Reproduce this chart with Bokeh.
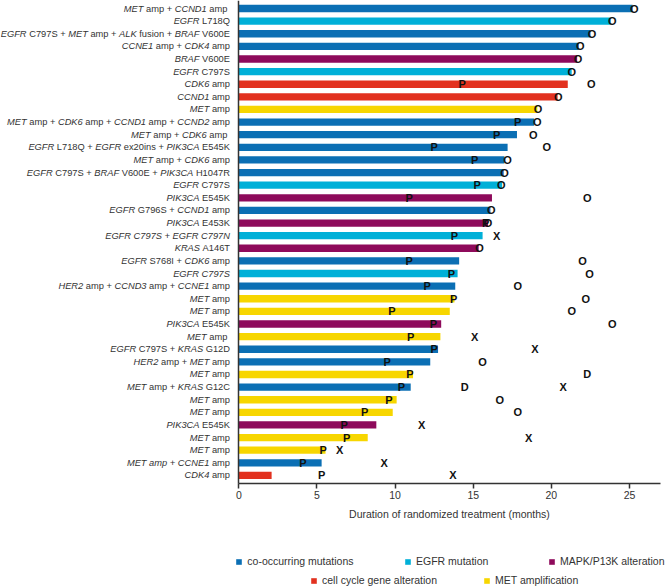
from bokeh.plotting import figure
from bokeh.models import (ColumnDataSource, CDSView, GroupFilter, Legend,
                          LegendItem, FixedTicker, Range1d, LinearAxis)
from bokeh.core.properties import value, field
from bokeh.embed import file_html
from bokeh.resources import INLINE

FONT = "Liberation Sans"

# ---------------- data ----------------
# gene names in *...* are italic
labels = [
    "*MET* amp + *CCND1* amp ",
    "*EGFR* L718Q",
    "*EGFR* C797S + *MET* amp + *ALK* fusion + *BRAF* V600E",
    "*CCNE1* amp + *CDK4* amp",
    "*BRAF* V600E",
    "*EGFR* C797S",
    "*CDK6* amp",
    "*CCND1* amp",
    "*MET* amp",
    "*MET* amp + *CDK6* amp + *CCND1* amp + *CCND2* amp",
    "*MET* amp + *CDK6* amp ",
    "*EGFR* L718Q + *EGFR* ex20ins + *PIK3CA* E545K",
    "*MET* amp + *CDK6* amp",
    "*EGFR* C797S + *BRAF* V600E + *PIK3CA* H1047R",
    "*EGFR* C797S",
    "*PIK3CA* E545K",
    "*EGFR* G796S + *CCND1* amp",
    "*PIK3CA* E453K",
    "*EGFR C797S + EGFR C797N*",
    "*KRAS* A146T",
    "*EGFR* S768I + *CDK6* amp",
    "*EGFR C797S*",
    "*HER2* amp + *CCND3* amp + *CCNE1* amp",
    "*MET* amp",
    "*MET* amp",
    "*PIK3CA* E545K",
    "*MET* amp ",
    "*EGFR* C797S + *KRAS* G12D",
    "*HER2* amp + *MET* amp",
    "*MET* amp",
    "*MET* amp + *KRAS* G12C",
    "*MET* amp",
    "*MET* amp",
    "*PIK3CA* E545K",
    "*MET* amp",
    "*MET* amp",
    "*MET amp + CCNE1* amp",
    "*CDK4* amp",
]

categories = [
    "co-occurring mutations", "EGFR mutation", "co-occurring mutations", "co-occurring mutations",
    "MAPK/P13K alteration", "EGFR mutation", "cell cycle gene alteration", "cell cycle gene alteration",
    "MET amplification", "co-occurring mutations", "co-occurring mutations", "co-occurring mutations",
    "co-occurring mutations", "co-occurring mutations", "EGFR mutation", "MAPK/P13K alteration",
    "co-occurring mutations", "MAPK/P13K alteration", "EGFR mutation", "MAPK/P13K alteration",
    "co-occurring mutations", "EGFR mutation", "co-occurring mutations", "MET amplification",
    "MET amplification", "MAPK/P13K alteration", "MET amplification", "co-occurring mutations",
    "co-occurring mutations", "MET amplification", "co-occurring mutations", "MET amplification",
    "MET amplification", "MAPK/P13K alteration", "MET amplification", "MET amplification",
    "co-occurring mutations", "cell cycle gene alteration",
]

duration = [25.2, 23.8, 22.5, 21.75, 21.65, 21.3, 21.05, 20.4, 19.1, 18.9,
            17.8, 17.2, 17.0, 16.95, 16.85, 16.2, 16.1, 15.95, 15.6, 15.35,
            14.1, 14.0, 13.85, 13.8, 13.5, 12.95, 12.9, 12.75, 12.25, 11.15,
            11.0, 10.1, 9.85, 8.8, 8.25, 5.55, 5.3, 2.1]

# event markers: row number (1 = top), time (months), letter
ev_row = [1, 2, 3, 4, 5, 6, 7, 7, 8, 9, 10, 10, 11, 11, 12, 12, 13, 13, 14, 15, 15,
          16, 16, 17, 18, 18, 19, 19, 20, 21, 21, 22, 22, 23, 23, 24, 24, 25, 25,
          26, 26, 27, 27, 28, 28, 29, 29, 30, 30, 31, 31, 31, 32, 32, 33, 33,
          34, 34, 35, 35, 36, 36, 37, 37, 38, 38]
ev_time = [25.3, 23.9, 22.6, 21.85, 21.7, 21.3, 14.3, 22.55, 20.45, 19.15, 17.85, 19.1,
           16.5, 18.85, 12.5, 19.7, 15.1, 17.2, 17.0, 15.25, 16.8,
           10.9, 22.3, 16.15, 15.8, 15.95, 13.8, 16.5, 15.4, 10.9, 22.0, 13.6, 22.45,
           12.05, 17.85, 13.75, 22.2, 9.8, 21.3,
           12.45, 23.9, 11.0, 15.1, 12.5, 18.95, 9.5, 15.6, 10.95, 22.3, 10.4, 14.45, 20.75,
           9.6, 16.7, 8.05, 17.85, 6.75, 11.7, 6.9, 18.55, 5.4, 6.45, 4.1, 9.3, 5.3, 13.7]
ev_type = ["O", "O", "O", "O", "O", "O", "P", "O", "O", "O", "P", "O", "P", "O", "P", "O",
           "P", "O", "O", "P", "O", "P", "O", "O", "P", "O", "P", "X", "O", "P", "O", "P", "O",
           "P", "O", "P", "O", "P", "O", "P", "O", "P", "X", "P", "X", "P", "O", "P", "D",
           "P", "D", "X", "P", "O", "P", "O", "P", "X", "P", "X", "P", "X", "P", "X", "P", "X"]

legend_names = ["co-occurring mutations", "EGFR mutation", "MAPK/P13K alteration",
                "cell cycle gene alteration", "MET amplification"]
colors = ["#0B6FB4", "#00B0D8", "#8E0A5B", "#E2311F", "#F7D600"]
x_ticks = [0, 5, 10, 15, 20, 25]
x_max = 27

# ---------------- helpers ----------------
W = {' ': 278, '+': 584, '-': 333, '/': 278, '(': 333, ')': 333, '.': 278}
for d in "0123456789":
    W[d] = 556
W.update(dict(zip("ABCDEFGHIJKLMNOPQRSTUVWXYZ",
                  [667, 667, 722, 722, 667, 611, 778, 722, 278, 500, 667, 556, 833,
                   722, 778, 667, 778, 722, 667, 611, 722, 667, 944, 667, 667, 611])))
W.update(dict(zip("abcdefghijklmnopqrstuvwxyz",
                  [556, 556, 500, 556, 556, 278, 556, 556, 222, 222, 500, 222, 833,
                   556, 556, 556, 556, 333, 500, 278, 556, 500, 722, 500, 500, 500])))

LFS = 9.3  # label font size (px)


def tw(s):
    return sum(W.get(c, 556) for c in s) * LFS / 1000.0


n = len(labels)
ypos = [n + 1 - (i + 1) for i in range(n)]

GAP = 8.8
lab_x, lab_y, lab_t, lab_off, lab_style = [], [], [], [], []
for i, lab in enumerate(labels):
    parts = lab.split("*")
    segs = [(s, k % 2 == 1) for k, s in enumerate(parts) if s]
    total = sum(tw(s) for s, _ in segs)
    cur = -GAP - total
    for s, it in segs:
        st = s.strip()
        if st:
            lead = len(s) - len(s.lstrip())
            left = cur + tw(s[:lead])
            lab_x.append(0)
            lab_y.append(ypos[i])
            lab_t.append(st)
            lab_off.append(left)
            lab_style.append("italic" if it else "normal")
        cur += tw(s)

# ---------------- figure ----------------
PW, PH = 666, 587
X0 = 238.3          # pixel of x = 0
SX = 15.628         # pixels per month
Y1 = 8.0            # pixel of top row
SY = 12.62          # pixels per row
y_top = n + Y1 / SY
y_bot = y_top - PH / SY
y_axis_pos = 1 - 8.0 / SY

p = figure(width=PW, height=PH,
           x_range=Range1d(-X0 / SX, (PW - X0) / SX),
           y_range=Range1d(y_bot, y_top),
           output_backend="svg", toolbar_location=None,
           x_axis_location=None, y_axis_location=None,
           min_border=0, min_border_left=0, min_border_right=0,
           min_border_top=0, min_border_bottom=0)
p.outline_line_color = None
p.grid.visible = False
p.background_fill_color = "white"

src = ColumnDataSource(dict(y=ypos, dur=duration, cat=categories))
renderers = {}
for name, col in zip(legend_names, colors):
    view = CDSView(filter=GroupFilter(column_name="cat", group=name))
    r = p.hbar(y="y", left=0, right="dur", height=0.58, source=src, view=view,
               fill_color=col, line_color=None)
    renderers[name] = r

ev_src = ColumnDataSource(dict(t=ev_time, y=[n + 1 - r for r in ev_row], ev=ev_type))
p.text(x="t", y="y", text="ev", source=ev_src, text_font=value(FONT),
       text_font_style="bold", text_font_size="11px", text_align="center",
       text_baseline="middle", text_color="#111111")

lab_src = ColumnDataSource(dict(x=lab_x, y=lab_y, text=lab_t, xo=lab_off, style=lab_style))
p.text(x="x", y="y", text="text", x_offset="xo", source=lab_src,
       text_font=value(FONT), text_font_style=field("style"),
       text_font_size=value(f"{LFS}px"), text_align="left",
       text_baseline="middle", text_color="#333333")

# axes (drawn inside the frame at fixed locations)
xa = LinearAxis(fixed_location=y_axis_pos, bounds=(0, x_max),
                ticker=FixedTicker(ticks=x_ticks))
xa.axis_label = "Duration of randomized treatment (months)"
xa.axis_label_text_font = FONT
xa.axis_label_text_font_style = "normal"
xa.axis_label_text_font_size = "10.5px"
xa.axis_label_text_color = "#333333"
xa.axis_label_standoff = 5
xa.major_label_text_font = FONT
xa.major_label_text_font_size = "10.5px"
xa.major_label_text_color = "#333333"
xa.major_label_standoff = 3
xa.axis_line_color = "#333333"
xa.axis_line_width = 1.5
xa.major_tick_line_color = "#333333"
xa.major_tick_line_width = 1.5
xa.major_tick_in = 0
xa.major_tick_out = 5
xa.minor_tick_line_color = None
p.add_layout(xa, "below")

ya = LinearAxis(fixed_location=0, bounds=(y_axis_pos, y_top),
                ticker=FixedTicker(ticks=[]))
ya.major_label_text_font_size = "0px"
ya.axis_line_color = "#333333"
ya.axis_line_width = 1.5
ya.major_tick_line_color = None
ya.minor_tick_line_color = None
p.add_layout(ya, "left")

# legends (one per item, positioned like the reference)
leg_pos = [(X0 - 3, 20), (404, 20), (548, 20), (310, 1), (483, 1)]
for name, pos in zip(legend_names, leg_pos):
    leg = Legend(items=[LegendItem(label=name, renderers=[renderers[name]])],
                 location=pos, orientation="horizontal",
                 border_line_color=None, background_fill_alpha=0,
                 padding=0, margin=0, spacing=0,
                 glyph_width=7, glyph_height=7, label_standoff=5, label_height=12,
                 label_text_font=FONT, label_text_font_size="10.5px",
                 label_text_color="#333333")
    p.add_layout(leg)

open("out.html", "w").write(file_html(p, INLINE))
